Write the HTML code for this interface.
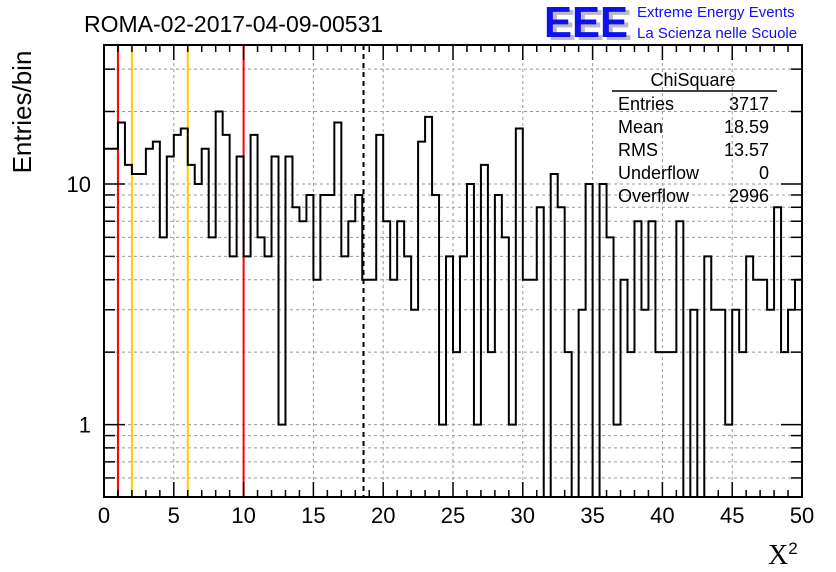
<!DOCTYPE html>
<html><head><meta charset="utf-8">
<style>
html,body{margin:0;padding:0;background:#fff;width:836px;height:572px;overflow:hidden}
svg{display:block;font-family:"Liberation Sans",sans-serif}
</style></head>
<body>
<svg id="chart" width="836" height="572" viewBox="0 0 836 572" xmlns="http://www.w3.org/2000/svg">
<rect x="0" y="0" width="836" height="572" fill="#fff"/>
<g id="grid"></g>
<g id="vlines"></g>
<g id="hist"></g>
<g id="axes"></g>
<text x="84" y="32" font-size="23" fill="#000">ROMA-02-2017-04-09-00531</text>
<g>
<text x="548" y="40" font-size="44" font-weight="bold" fill="#bbb" textLength="84" lengthAdjust="spacingAndGlyphs">EEE</text>
<text x="544" y="37" font-size="44" font-weight="bold" fill="#1010f0" textLength="84" lengthAdjust="spacingAndGlyphs">EEE</text>
<text x="637" y="17" font-size="15" fill="#1010f0">Extreme Energy Events</text>
<text x="637" y="38" font-size="15" fill="#1010f0">La Scienza nelle Scuole</text>
</g>
<g font-size="18" fill="#000">
<text x="693" y="86" text-anchor="middle">ChiSquare</text>
<line x1="612" y1="91" x2="777" y2="91" stroke="#000" stroke-width="1.5"/>
<text x="618" y="110">Entries</text><text x="769" y="110" text-anchor="end">3717</text>
<text x="618" y="133">Mean</text><text x="769" y="133" text-anchor="end">18.59</text>
<text x="618" y="156">RMS</text><text x="769" y="156" text-anchor="end">13.57</text>
<text x="618" y="179">Underflow</text><text x="769" y="179" text-anchor="end">0</text>
<text x="618" y="202">Overflow</text><text x="769" y="202" text-anchor="end">2996</text>
</g>
<text transform="translate(31,112) rotate(-90)" text-anchor="middle" font-size="26">Entries/bin</text>
<text x="768" y="564" font-size="28" font-family="'Liberation Serif',serif">X<tspan dy="-10" font-size="17" font-family="'Liberation Sans',sans-serif">2</tspan></text>
</svg>
<script>
const counts = [14,14,18,12,11,11,14,15,6,13,16,17,12,10,14,6,20,16,5,13,5,16,6,5,13,
1,13,8,7,9,4,9,9,18,5,7,9,4,4,16,7,4,7,5,3,15,19,9,1,5,
2,5,10,1,12,2,9,6,1,17,4,4,8,0,11,8,2,0,3,10,0,10,6,1,4,
2,7,3,7,2,2,2,7,0,3,0,5,3,3,1,3,2,5,4,4,3,8,2,3,4];
const xTicks = [0,5,10,15,20,25,30,35,40,45,50];
const yMajor = [1,10];
const yMinor = [0.6,0.7,0.8,0.9,2,3,4,5,6,7,8,9,20,30];
const redLines = [1,10];
const yellowLines = [2,6];
const meanLine = [18.59];
const xMin=0,xMax=50,yMin=0.5,yMax=37.8;
const L=104,R=802,T=45,B=497;
const NS="http://www.w3.org/2000/svg";
function X(v){return L+(v-xMin)/(xMax-xMin)*(R-L);}
function Y(v){const lv=Math.log10(Math.max(v,1e-3));return B-(lv-Math.log10(yMin))/(Math.log10(yMax)-Math.log10(yMin))*(B-T);}
function mk(tag,attrs,parent){const e=document.createElementNS(NS,tag);for(const k in attrs)e.setAttribute(k,attrs[k]);parent.appendChild(e);return e;}
const grid=document.getElementById('grid'),vl=document.getElementById('vlines'),hist=document.getElementById('hist'),axes=document.getElementById('axes');
// grid
yMinor.concat(yMajor).forEach(v=>{const g=mk('line',{x1:L,x2:R,y1:Y(v),y2:Y(v),stroke:'#999','stroke-width':1,'stroke-dasharray':'3,3'},grid);

});
xTicks.slice(1,-1).forEach(v=>{const g=mk('line',{x1:X(v),x2:X(v),y1:T,y2:B,stroke:'#999','stroke-width':1,'stroke-dasharray':'3,3'},grid);

});
// reference lines
redLines.forEach(v=>{const l=mk('line',{x1:X(v),x2:X(v),y1:T,y2:B,stroke:'#ff0000','stroke-width':2},vl);

});
yellowLines.forEach(v=>{const l=mk('line',{x1:X(v),x2:X(v),y1:T,y2:B,stroke:'#ffcc00','stroke-width':2},vl);

});
meanLine.forEach(v=>{const l=mk('line',{x1:X(v),x2:X(v),y1:T,y2:B,stroke:'#000','stroke-width':2,'stroke-dasharray':'5,4'},vl);

});
// histogram
const bw=(xMax-xMin)/counts.length;
let d='';
function yc(v){return v<=0?B+5:Math.max(T,Math.min(B+5,Y(v)));}
counts.forEach((c,i)=>{const x0=X(xMin+i*bw),x1=X(xMin+(i+1)*bw),y=yc(c);
if(i===0)d+='M'+x0+','+y;else d+='L'+x0+','+y;d+='L'+x1+','+y;});
const cp=mk('clipPath',{id:'pc'},hist);mk('rect',{x:L,y:T,width:R-L,height:B-T},cp);
const p=mk('path',{d:d,fill:'none',stroke:'#000','stroke-width':2,'clip-path':'url(#pc)'},hist);


// frame
const fr=mk('rect',{x:L,y:T,width:R-L,height:B-T,fill:'none',stroke:'#000','stroke-width':2},axes);


// x ticks
for(let v=xMin;v<=xMax;v+=1){const maj=(v%5===0);const len=maj?15:7;
mk('line',{x1:X(v),x2:X(v),y1:B,y2:B-len,stroke:'#000','stroke-width':1.5},axes);
mk('line',{x1:X(v),x2:X(v),y1:T,y2:T+len,stroke:'#000','stroke-width':1.5},axes);}
xTicks.forEach(v=>{const t=mk('text',{x:X(v),y:523,'text-anchor':'middle','font-size':22},axes);t.textContent=v;

});
// y ticks
yMinor.forEach(v=>{mk('line',{x1:L,x2:L+11,y1:Y(v),y2:Y(v),stroke:'#000','stroke-width':1.5},axes);
mk('line',{x1:R,x2:R-11,y1:Y(v),y2:Y(v),stroke:'#000','stroke-width':1.5},axes);});
yMajor.forEach(v=>{mk('line',{x1:L,x2:L+21,y1:Y(v),y2:Y(v),stroke:'#000','stroke-width':1.5},axes);
mk('line',{x1:R,x2:R-21,y1:Y(v),y2:Y(v),stroke:'#000','stroke-width':1.5},axes);
const t=mk('text',{x:91,y:Y(v)+8,'text-anchor':'end','font-size':22},axes);t.textContent=v;

});
</script>
</body></html>
